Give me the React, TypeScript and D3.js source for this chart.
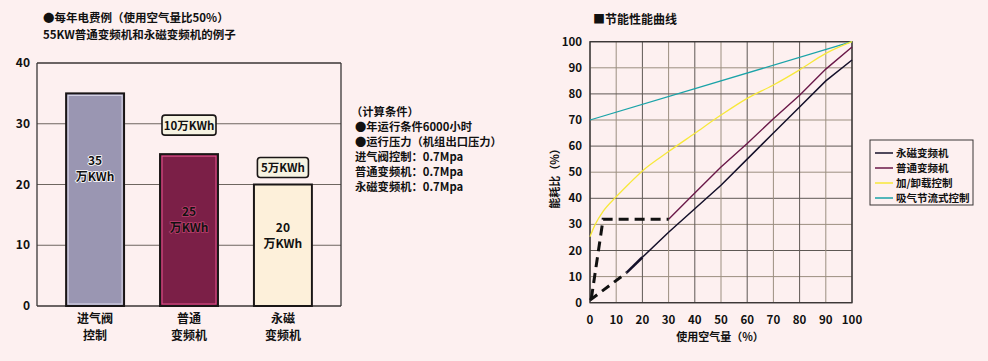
import React from "react";
import * as d3 from "d3";

// ---------- Left chart data ----------
const barCategories = [["进气阀", "控制"], ["普通", "变频机"], ["永磁", "变频机"]];
const barValues = [35, 25, 20];
const barValueLabels = ["35", "25", "20"];
const barTicks = [0, 10, 20, 30, 40];
const savingLabels = ["10万KWh", "5万KWh"]; // for bar 2 and bar 3
const conditionLines = [
  "（计算条件）",
  "●年运行条件6000小时",
  "●运行压力（机组出口压力）",
  "进气阀控制：0.7Mpa",
  "普通变频机：0.7Mpa",
  "永磁变频机：0.7Mpa",
];

// ---------- Right chart data ----------
const pctTicks = [0, 10, 20, 30, 40, 50, 60, 70, 80, 90, 100];
const pmDashedX = [0, 14];
const pmDashedY = [1, 11.5];
const pmX = [14, 20, 30, 40, 50, 60, 70, 80, 90, 100];
const pmY = [11.5, 17.4, 27, 36, 45, 55, 65, 75, 85, 93];
const vfDashedX = [0.5, 5, 30];
const vfDashedY = [1.5, 32, 32];
const vfX = [30, 40, 50, 60, 70, 80, 90, 100];
const vfY = [32, 42, 52, 61, 70.5, 79.5, 89.5, 98];
const luX = [0, 2, 5, 10, 15, 20, 30, 40, 50, 60, 70, 80, 90, 100];
const luY = [25.3, 30, 35, 40.6, 45.7, 50.5, 57.9, 64.9, 71.9, 78.3, 83.4, 89.2, 95.5, 100];
const thX = [0, 100];
const thY = [70, 100];
const legendNames = ["永磁变频机", "普通变频机", "加/卸载控制", "吸气节流式控制"];
const legendColors = ["#14102a", "#6a1848", "#f7e83a", "#1aa3a8"];

const FONT = "'Noto Sans CJK SC', 'Noto Sans', sans-serif";
const BG = "#fdf0f0";

export default function App() {
  // left scales
  const L0 = 37, L1 = 341;
  const ly = d3.scaleLinear().domain([0, 40]).range([306, 63]);
  const lx = d3.scaleBand().domain(["0", "1", "2"]).range([L0, L1]).paddingInner(0.383).paddingOuter(0.31);
  const barFill = ["#9a96b2", "#7b1f47", "#fdf0da"];
  const barInner = ["#dcdaea", "#e2528c", "#fdf0da"];
  const halo = ["#ffffff", "#b8406c", "#fdf0da"];
  const labelOffset = [-39, -19, -18];

  // right scales
  const rx = d3.scaleLinear().domain([0, 100]).range([590, 852]);
  const ry = d3.scaleLinear().domain([0, 100]).range([302.7, 41.7]);
  const mk = (xs: number[], ys: number[], curve = d3.curveLinear) =>
    d3.line<number>().x((d, i) => rx(xs[i])).y((d, i) => ry(ys[i])).curve(curve)(xs) || "";

  return (
    <svg width={988} height={361} style={{ position: "absolute", left: 0, top: 0, background: BG }} fontFamily={FONT}>
      <rect x={0} y={0} width={988} height={361} fill={BG} />
      {/* ---------- Left chart ---------- */}
      <text x={43} y={22} fontSize={11.5} fontWeight="bold" fill="#111">●每年电费例（使用空气量比50%）</text>
      <text x={43} y={39} fontSize={11.5} fontWeight="bold" fill="#111">55KW普通变频机和永磁变频机的例子</text>
      {barTicks.map((t) => (
        <g key={t}>
          <line x1={L0} x2={L1} y1={ly(t)} y2={ly(t)} stroke={t === 0 || t === 40 ? "#3a3636" : "#6e6660"} strokeWidth={t === 0 || t === 40 ? 1.3 : 1} />
          <text x={30} y={ly(t) + 4} textAnchor="end" fontSize={12} fontWeight="bold" fill="#111">{t}</text>
        </g>
      ))}
      <line x1={L0} x2={L0} y1={ly(40)} y2={ly(0)} stroke="#3a3636" strokeWidth={1.3} />
      <line x1={L1} x2={L1} y1={ly(40)} y2={ly(0)} stroke="#3a3636" strokeWidth={1.3} />
      {barValues.map((v, i) => {
        const x = lx(String(i))!;
        const w = lx.bandwidth();
        const cx = x + w / 2;
        const ytop = ly(v);
        const mid = (ytop + ly(0)) / 2;
        const c1 = mid + labelOffset[i];
        return (
          <g key={i}>
            <rect x={x} y={ytop} width={w} height={ly(0) - ytop} fill={barFill[i]} stroke="#1a1616" strokeWidth={2} />
            <rect x={x + 2} y={ytop + 2} width={w - 4} height={ly(0) - ytop - 4} fill="none" stroke={barInner[i]} strokeWidth={1} />
            <g fontSize={12} fontWeight="bold" fill="#111" textAnchor="middle" stroke={halo[i]} strokeWidth={1.6} style={{ paintOrder: "stroke" }}>
              <text x={cx} y={c1 + 4.5}>{barValueLabels[i]}</text>
              <text x={cx} y={c1 + 20.5}>万KWh</text>
            </g>
            <g fontSize={12} fontWeight="bold" fill="#111" textAnchor="middle">
              <text x={cx} y={323}>{barCategories[i][0]}</text>
              <text x={cx} y={340}>{barCategories[i][1]}</text>
            </g>
          </g>
        );
      })}
      {savingLabels.map((s, j) => {
        const i = j + 1;
        const cx = lx(String(i))! + lx.bandwidth() / 2;
        const yc = ly(barValues[i]) - (j === 0 ? 29 : 17);
        const w = j === 0 ? 54 : 51;
        return (
          <g key={s}>
            <rect x={cx - w / 2} y={yc - 10} width={w} height={20} rx={3} fill="#f6f3e2" stroke="#1a1616" strokeWidth={1.6} />
            <text x={cx} y={yc + 4.5} textAnchor="middle" fontSize={11.5} fontWeight="bold" fill="#111">{s}</text>
          </g>
        );
      })}
      {conditionLines.map((c, i) => (
        <text key={i} x={i === 0 ? 351 : 355} y={116 + i * 15} fontSize={11.3} fontWeight="bold" fill="#111">{c}</text>
      ))}

      {/* ---------- Right chart ---------- */}
      <text x={593} y={24} fontSize={12} fontWeight="bold" fill="#111">■节能性能曲线</text>
      {pctTicks.map((t) => (
        <g key={"g" + t}>
          <line x1={rx(t)} x2={rx(t)} y1={ry(0)} y2={ry(100)} stroke={t % 20 === 0 ? "#5e5854" : "#9c8f80"} strokeWidth={1} />
          <line x1={rx(0)} x2={rx(100)} y1={ry(t)} y2={ry(t)} stroke={t % 20 === 0 ? "#5e5854" : "#9c8f80"} strokeWidth={1} />
          <text x={rx(t)} y={ry(0) + 21} textAnchor="middle" fontSize={11.5} fontWeight="bold" fill="#111">{t}</text>
          <text x={582} y={ry(t) + 4} textAnchor="end" fontSize={11.5} fontWeight="bold" fill="#111">{t}</text>
        </g>
      ))}
      <rect x={rx(0)} y={ry(100)} width={rx(100) - rx(0)} height={ry(0) - ry(100)} fill="none" stroke="#3a3636" strokeWidth={1.3} />
      <text transform={`translate(559,176) rotate(-90)`} textAnchor="middle" fontSize={11} fontWeight="bold" fill="#111">能耗比（%）</text>
      <text x={rx(50) - 1} y={341} textAnchor="middle" fontSize={11} fontWeight="bold" fill="#111">使用空气量（%）</text>

      <path d={mk(thX, thY)} fill="none" stroke={legendColors[3]} strokeWidth={1.3} />
      <path d={mk(luX, luY, d3.curveMonotoneX)} fill="none" stroke={legendColors[2]} strokeWidth={1.3} />
      <path d={mk(vfX, vfY)} fill="none" stroke={legendColors[1]} strokeWidth={1.4} />
      <path d={mk(pmX.slice(0, 2), pmY.slice(0, 2))} fill="none" stroke={legendColors[0]} strokeWidth={2.6} />
      <path d={mk(pmX.slice(1), pmY.slice(1))} fill="none" stroke={legendColors[0]} strokeWidth={1.5} />
      <path d={mk(vfDashedX, vfDashedY)} fill="none" stroke="#111" strokeWidth={3} strokeDasharray="10,6" />
      <path d={mk(pmDashedX, pmDashedY)} fill="none" stroke="#111" strokeWidth={3} strokeDasharray="9,6" />

      <rect x={870} y={140} width={103} height={65} fill={BG} stroke="#3a3636" strokeWidth={1} />
      {legendNames.map((n, i) => (
        <g key={n}>
          <line x1={875} x2={893} y1={153 + i * 15} y2={153 + i * 15} stroke={legendColors[i]} strokeWidth={1.5} />
          <text x={896} y={157 + i * 15} fontSize={10.5} fontWeight="bold" fill="#111">{n}</text>
        </g>
      ))}
    </svg>
  );
}
